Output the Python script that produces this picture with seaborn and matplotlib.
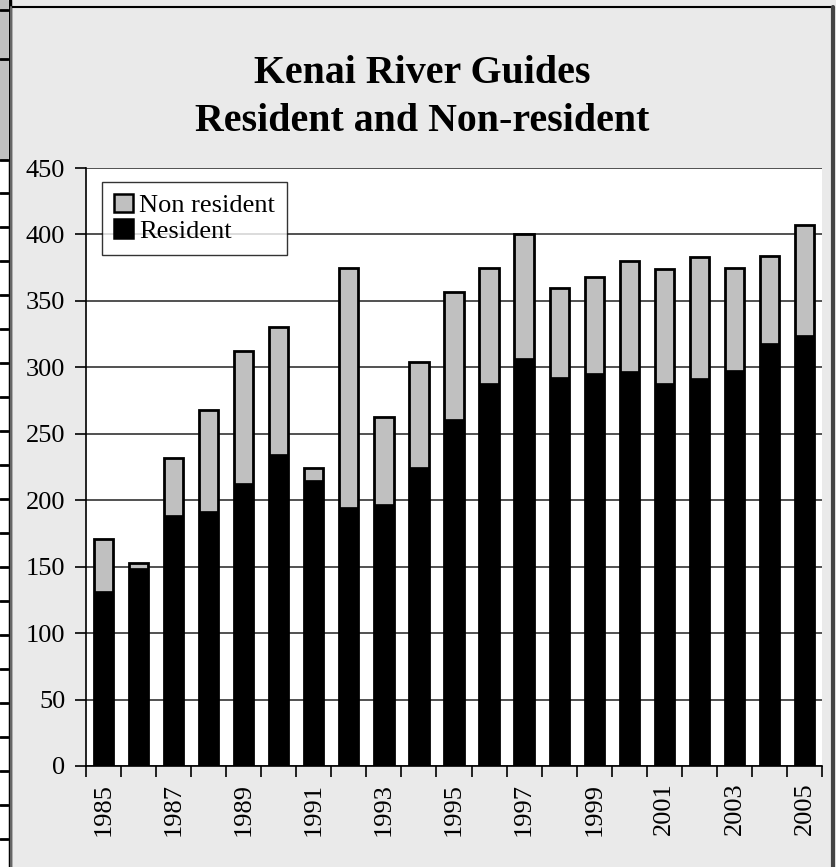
import numpy as np
import pandas as pd
import matplotlib.pyplot as plt
import seaborn as sns
from matplotlib.patches import Rectangle, Patch
from matplotlib.lines import Line2D

years = [str(y) for y in range(1985, 2006)]
total = [171, 153, 232, 268, 312, 330, 224, 375, 263, 304, 357,
         375, 400, 360, 368, 380, 374, 383, 375, 384, 407]
resident = [132, 149, 189, 192, 213, 235, 215, 195, 197, 225, 261,
            288, 307, 293, 296, 297, 288, 292, 298, 318, 324]

df = pd.DataFrame({"year": years, "resident": resident, "total": total})

sns.set_theme(style="white")
plt.rcParams['font.family'] = ['Liberation Serif', 'DejaVu Serif']
for k in ["text.color", "axes.labelcolor", "xtick.color", "ytick.color"]:
    plt.rcParams[k] = "black"

W, H = 837, 867
fig = plt.figure(figsize=(W / 100, H / 100), dpi=100)
fig.patch.set_facecolor("#eaeaea")

# spreadsheet strip on the far left + chart frame
fig.add_artist(Rectangle((0, 0), 10 / W, 1, transform=fig.transFigure, facecolor="white", edgecolor="none"))
fig.add_artist(Rectangle((0, 1 - 160 / H), 8 / W, 160 / H, transform=fig.transFigure,
                         facecolor="#c0c0c0", edgecolor="none"))
for yp in [10, 59, 160] + list(np.arange(193, H, 34)):
    fig.add_artist(Line2D([0, 8 / W], [1 - yp / H] * 2, transform=fig.transFigure, color="black", lw=2))
fig.add_artist(Line2D([9.5 / W] * 2, [0, 1], transform=fig.transFigure, color="black", lw=2.5))
fig.add_artist(Line2D([11 / W, 833 / W], [1 - 7 / H] * 2, transform=fig.transFigure, color="black", lw=1.5))
fig.add_artist(Line2D([833 / W] * 2, [0, 1 - 7 / H], transform=fig.transFigure, color="#444444", lw=3))
fig.add_artist(Line2D([11.5 / W] * 2, [0, 1 - 7 / H], transform=fig.transFigure, color="#666666", lw=1.5))

ax = fig.add_axes([86 / W, 1 - 766 / H, (822 - 86) / W, (766 - 168) / H])
ax.set_facecolor("white")

sns.barplot(data=df, x="year", y="total", color="#c0c0c0", edgecolor="black",
            linewidth=2, width=0.55, saturation=1, ax=ax, zorder=3)
sns.barplot(data=df, x="year", y="resident", color="black", edgecolor="black",
            linewidth=0.5, width=0.55, saturation=1, ax=ax, zorder=4)

ax.set_ylim(0, 450)
ax.set_xlim(-0.5, len(years) - 0.5)
ax.set_yticks(np.arange(0, 451, 50))
ax.yaxis.grid(True, color="#333333", lw=1.2)
ax.set_axisbelow(True)

# x ticks: marks at category boundaries, labels every other year at centres
ax.set_xticks(np.arange(-0.5, len(years), 1), minor=True)
ax.set_xticks(range(0, len(years), 2))
ax.set_xticklabels(years[::2], rotation=90, fontsize=19)
ax.tick_params(axis="x", which="major", length=0, pad=12)
ax.tick_params(axis="x", which="minor", length=8, width=1.2, color="black", bottom=True)
ax.tick_params(axis="y", length=8, width=1.2, color="black", left=True, labelsize=19, pad=7)
ax.set_xlabel("")
ax.set_ylabel("")

for s in ["top", "right"]:
    ax.spines[s].set_visible(False)
for s in ["left", "bottom"]:
    ax.spines[s].set_color("black")
    ax.spines[s].set_linewidth(1.2)

handles = [Patch(facecolor="#c0c0c0", edgecolor="black", lw=1.8, label="Non resident"),
           Patch(facecolor="black", edgecolor="black", lw=1.8, label="Resident")]
leg = ax.legend(handles=handles, loc="upper left", bbox_to_anchor=(0.022, 0.977),
                fontsize=19, frameon=True, fancybox=False, borderpad=0.45,
                handlelength=0.7, handleheight=0.7, handletextpad=0.25,
                labelspacing=0.08, borderaxespad=0)
leg.get_frame().set_edgecolor("black")
leg.get_frame().set_linewidth(1)
leg.set_zorder(10)

fig.text(422 / W, 1 - 83 / H, "Kenai River Guides", ha="center", va="baseline",
         fontsize=28.7, fontweight="bold")
fig.text(422 / W, 1 - 131 / H, "Resident and Non-resident", ha="center", va="baseline",
         fontsize=28.7, fontweight="bold")

fig.savefig("out.png", dpi=100, facecolor=fig.get_facecolor())
